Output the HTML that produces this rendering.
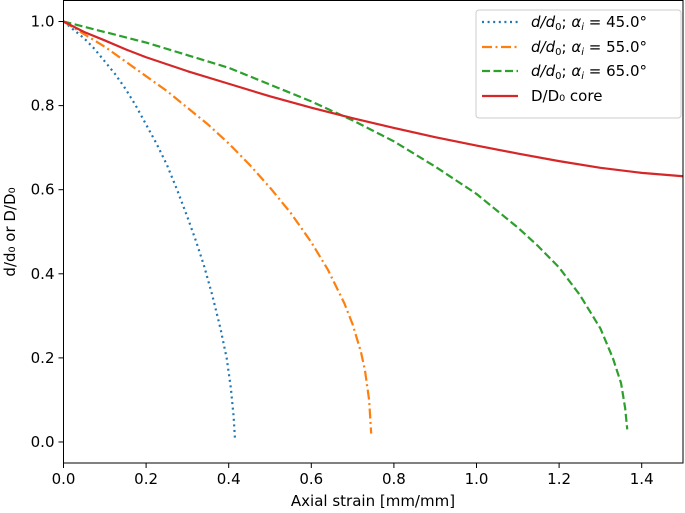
<!DOCTYPE html>
<html><head><meta charset="utf-8"><style>
body{margin:0;background:#fff}
svg{font-family:"DejaVu Sans","Liberation Sans",sans-serif;display:block}
</style></head><body>
<svg id="chart" width="685" height="513">
<g id="plot"></g>
<text x="373" y="506" text-anchor="middle" font-size="15">Axial strain [mm/mm]</text>
<text transform="translate(15,232) rotate(-90)" text-anchor="middle" font-size="15">d/d₀ or D/D₀</text>
<g font-size="15">
<rect x="476" y="10" width="205" height="108" rx="3" fill="#fff" stroke="#ccc"/>
<line x1="482" x2="518" y1="22" y2="22" stroke="#1f77b4" stroke-width="2.2" stroke-dasharray="2,3.6"/>
<text x="531" y="27"><tspan font-style="italic">d/d</tspan><tspan font-size="10" dy="3">0</tspan><tspan dy="-3">;  </tspan><tspan font-style="italic">α</tspan><tspan font-size="10" font-style="italic" dy="3">i</tspan><tspan dy="-3"> = 45.0°</tspan></text>
<line x1="482" x2="518" y1="47" y2="47" stroke="#ff7f0e" stroke-width="2.2" stroke-dasharray="10,3.5,2,3.5"/>
<text x="531" y="52"><tspan font-style="italic">d/d</tspan><tspan font-size="10" dy="3">0</tspan><tspan dy="-3">;  </tspan><tspan font-style="italic">α</tspan><tspan font-size="10" font-style="italic" dy="3">i</tspan><tspan dy="-3"> = 55.0°</tspan></text>
<line x1="482" x2="518" y1="71" y2="71" stroke="#2ca02c" stroke-width="2.2" stroke-dasharray="8,3.5"/>
<text x="531" y="76"><tspan font-style="italic">d/d</tspan><tspan font-size="10" dy="3">0</tspan><tspan dy="-3">;  </tspan><tspan font-style="italic">α</tspan><tspan font-size="10" font-style="italic" dy="3">i</tspan><tspan dy="-3"> = 65.0°</tspan></text>
<line x1="482" x2="518" y1="96" y2="96" stroke="#d62728" stroke-width="2.2"/>
<text x="531" y="101">D/D₀ core</text>
</g>
<script>
const xTicks=[0.0,0.2,0.4,0.6,0.8,1.0,1.2,1.4];
const yTicks=[0.0,0.2,0.4,0.6,0.8,1.0];
const blueX=[0,0.025,0.05,0.075,0.1,0.125,0.15,0.175,0.2,0.225,0.25,0.275,0.3,0.32,0.34,0.36,0.38,0.395,0.405,0.412,0.415];
const blueY=[1,0.98,0.96,0.935,0.905,0.875,0.84,0.8,0.755,0.71,0.66,0.6,0.535,0.48,0.42,0.35,0.27,0.2,0.13,0.06,0.01];
const orangeX=[0,0.05,0.1,0.15,0.2,0.25,0.3,0.35,0.4,0.45,0.5,0.55,0.6,0.64,0.68,0.7,0.72,0.73,0.74,0.745];
const orangeY=[1,0.97,0.94,0.905,0.87,0.835,0.795,0.755,0.71,0.66,0.605,0.545,0.475,0.41,0.33,0.28,0.215,0.17,0.1,0.02];
const greenX=[0,0.1,0.2,0.3,0.4,0.5,0.6,0.7,0.8,0.9,1.0,1.1,1.15,1.2,1.25,1.3,1.33,1.35,1.36,1.365];
const greenY=[1,0.975,0.95,0.92,0.89,0.85,0.81,0.765,0.715,0.655,0.59,0.51,0.465,0.415,0.35,0.27,0.2,0.14,0.08,0.03];
const redX=[0,0.05,0.1,0.15,0.2,0.3,0.4,0.5,0.6,0.7,0.8,0.9,1.0,1.1,1.2,1.3,1.4,1.5];
const redY=[1,0.975,0.955,0.934,0.915,0.882,0.852,0.822,0.795,0.77,0.747,0.725,0.705,0.686,0.668,0.652,0.64,0.632];
const L=63.5,R=683,T=0.5,B=463;
const sx=v=>L+v/1.5*(R-L);
const sy=v=>B-(v+0.05)/1.1*(B-T);
const ns="http://www.w3.org/2000/svg";
const g=document.getElementById('plot');
function el(t,a){const e=document.createElementNS(ns,t);for(const k in a)e.setAttribute(k,a[k]);g.appendChild(e);return e;}
function series(xs,ys,color,dash,name){
 const p=el('polyline',{points:xs.map((x,i)=>sx(x)+','+sy(ys[i])).join(' '),fill:'none',stroke:color,'stroke-width':2.2,'stroke-dasharray':dash,'stroke-linejoin':'round'});
 
 
}
series(blueX,blueY,'#1f77b4','2,3.6','series-alpha-45');
series(orangeX,orangeY,'#ff7f0e','10,3.5,2,3.5','series-alpha-55');
series(greenX,greenY,'#2ca02c','8,3.5','series-alpha-65');
series(redX,redY,'#d62728','','series-core');
const fr=el('rect',{x:L,y:T,width:R-L,height:B-T,fill:'none',stroke:'#000','stroke-width':1});


xTicks.forEach(v=>{
 el('line',{x1:sx(v),x2:sx(v),y1:B,y2:B+5,stroke:'#000'});
 const t=el('text',{x:sx(v),y:B+21,'text-anchor':'middle','font-size':15});
 t.textContent=v.toFixed(1);
 
 
});
yTicks.forEach(v=>{
 el('line',{x1:L-5,x2:L,y1:sy(v),y2:sy(v),stroke:'#000'});
 const t=el('text',{x:L-9,y:sy(v)+5,'text-anchor':'end','font-size':15});
 t.textContent=v.toFixed(1);
 
 
});
</script>
</svg>
</body></html>
